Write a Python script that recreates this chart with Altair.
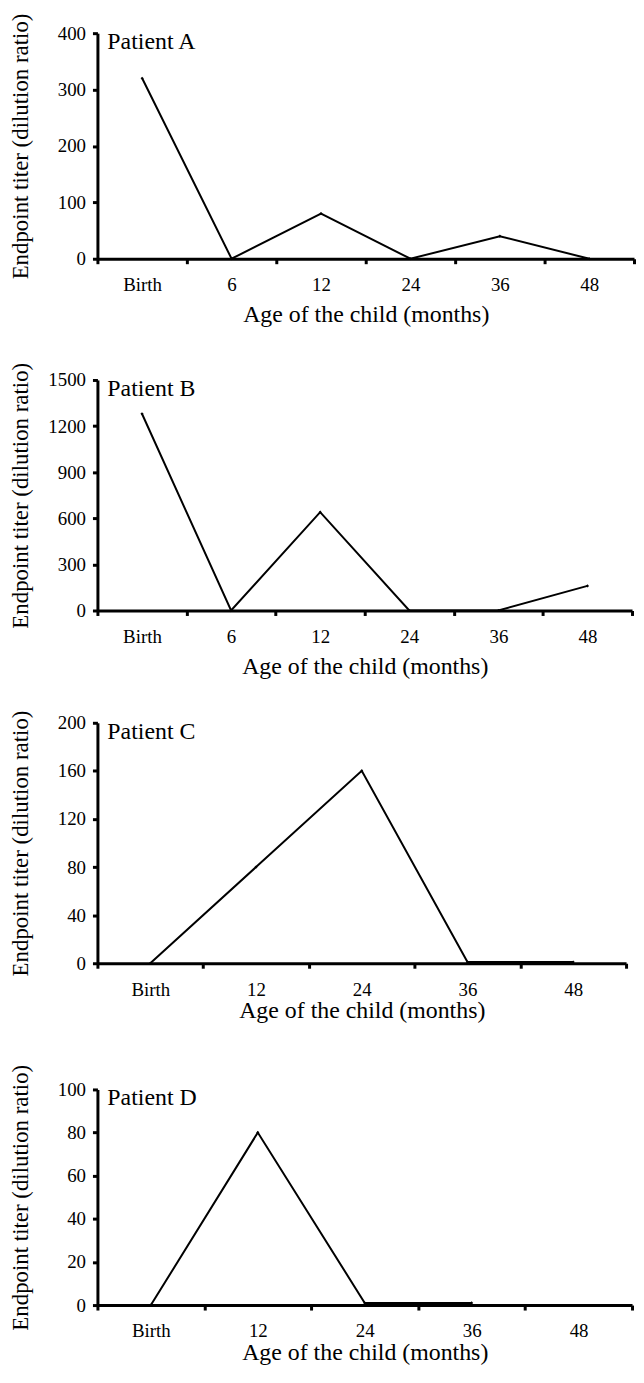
import altair as alt
import pandas as pd

# ---- data ----
ages_ab = ["Birth", "6", "12", "24", "36", "48"]
titer_a = [320, 0, 80, 0, 40, 0]
titer_b = [1280, 0, 640, 0, 0, 160]

ages_cd = ["Birth", "12", "24", "36", "48"]
titer_c = [0, 80, 160, 1, 1]
titer_d = [0, 80, 1, 1, None]

patients = ["Patient A", "Patient B", "Patient C", "Patient D"]
y_max = [400, 1500, 200, 100]
y_step = [100, 300, 40, 20]

SERIF = "Liberation Serif"
X_TITLE = "Age of the child (months)"
Y_TITLE = "Endpoint titer (dilution ratio)"


def panel(ages, titers, label, ymax, ystep, w, h, extra_top, title_pad):
    """h = plot-area height of the axis, extra_top = blank space above the axis top."""
    n = len(ages)
    df = pd.DataFrame({"idx": list(range(n)), "age": ages, "titer": titers}).dropna()
    bounds = [i - 0.5 for i in range(n + 1)]
    expr = "[" + ",".join("'%s'" % a for a in ages) + ",''][round(datum.value + 0.5)]"
    H = h + extra_top
    x = alt.X(
        "idx:Q",
        scale=alt.Scale(domain=[-0.5, n - 0.5], nice=False, zero=False),
        axis=alt.Axis(
            values=bounds,
            labelExpr=expr,
            labelOffset={"condition": {"test": "datum.value > %s" % (n - 1), "value": -w / n / 2},
                         "value": w / n / 2},
            labelFlush=False,
            labelOverlap=False,
            title=X_TITLE,
            titlePadding=title_pad,
            grid=False,
        ),
    )
    y = alt.Y(
        "titer:Q",
        scale=alt.Scale(domain=[0, ymax], nice=False, zero=True, range=[H, extra_top]),
        axis=alt.Axis(
            values=list(range(0, ymax + 1, ystep)),
            format="d",
            title=Y_TITLE,
            titleX=-65,
            titleY=extra_top + h / 2,
            grid=False,
            labelFlush=False,
            labelOverlap=False,
        ),
    )
    base = alt.Chart(df)
    line = base.mark_line(color="black", strokeWidth=2).encode(x=x, y=y)
    pts = base.mark_point(shape="diamond", filled=True, size=10, color="black", opacity=1).encode(
        x="idx:Q", y="titer:Q"
    )
    txt = (
        alt.Chart(pd.DataFrame({"label": [label]}))
        .mark_text(align="left", baseline="alphabetic", font=SERIF, fontSize=24, color="black")
        .encode(x=alt.value(10), y=alt.value(extra_top + 16), text="label:N")
    )
    return alt.layer(line, pts, txt).properties(width=w, height=H)


pa = panel(ages_ab, titer_a, patients[0], y_max[0], y_step[0], 540, 227, 0, 8)
pb = panel(ages_ab, titer_b, patients[1], y_max[1], y_step[1], 538, 232, 9, 8)
pc = panel(ages_cd, titer_c, patients[2], y_max[2], y_step[2], 532, 242, 0, 0)
pd_ = panel(ages_cd, titer_d, patients[3], y_max[3], y_step[3], 538, 217, 14, 0)

chart = (
    alt.vconcat(pa, pb, pc, pd_, spacing=113, bounds="flush")
    .properties(padding={"left": 1, "top": 0, "right": 0, "bottom": 0}, background="white")
    .configure_view(stroke=None)
    .configure_axis(
        domainColor="black",
        domainWidth=3,
        tickColor="black",
        tickWidth=3,
        tickSize=5,
        labelFont=SERIF,
        labelFontSize=19,
        labelColor="black",
        labelPadding=7,
        titleFont=SERIF,
        titleFontSize=24,
        titleFontWeight="normal",
        titleColor="black",
    )
    .configure_axisX(labelPadding=12)
    .configure_axisY(titleFontSize=23)
)

chart.save("out.html", embed_options={"renderer": "svg", "actions": False})
